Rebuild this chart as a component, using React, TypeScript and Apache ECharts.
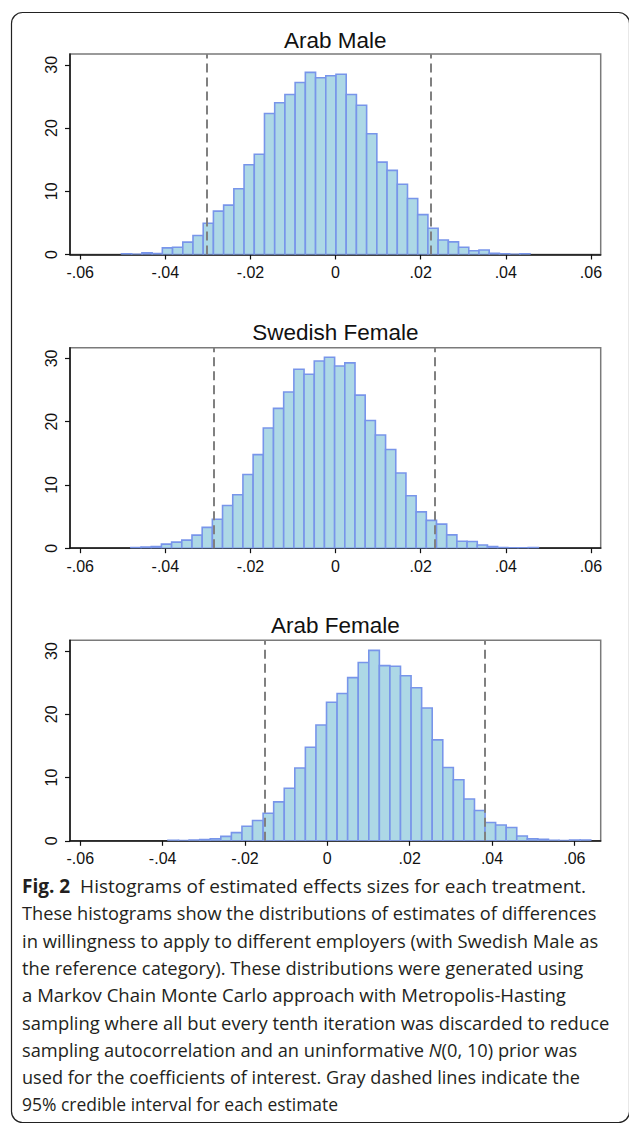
import React, { useEffect, useRef } from "react";
import * as echarts from "echarts";

// ---- data ----
const panelTitles = ["Arab Male", "Swedish Female", "Arab Female"];
const xTickValues = [-0.06, -0.04, -0.02, 0, 0.02, 0.04, 0.06];
const yTickValues = [0, 10, 20, 30];

// Arab Male: 40 bins
const arabMaleBinStart = -0.0503;
const arabMaleBinWidth = 0.0024;
const arabMaleDensity = [
  0.1, 0.05, 0.25, 0.15, 1.05, 1.15, 1.95, 3.0, 4.95, 6.85,
  7.8, 10.4, 14.2, 15.85, 22.3, 24.0, 25.3, 27.2, 28.8, 27.95,
  28.25, 28.5, 25.3, 23.6, 19.1, 14.6, 13.3, 11.1, 8.85, 6.3,
  4.15, 2.3, 2.0, 1.15, 0.6, 0.7, 0.2, 0.1, 0.05, 0.1,
];
const arabMaleInterval = [-0.0302, 0.0224];

// Swedish Female: 40 bins
const swedishFemaleBinStart = -0.0481;
const swedishFemaleBinWidth = 0.002394;
const swedishFemaleDensity = [
  0.1, 0.2, 0.25, 0.64, 0.96, 1.28, 2.07, 3.3, 4.57, 6.75,
  8.46, 11.65, 14.8, 19.0, 22.1, 24.7, 28.3, 27.5, 29.6, 30.2,
  28.8, 29.3, 24.2, 20.2, 17.9, 15.6, 11.9, 8.3, 5.75, 4.4,
  3.8, 2.1, 1.1, 1.05, 0.5, 0.25, 0.1, 0.05, 0.05, 0.1,
];
const swedishFemaleInterval = [-0.0286, 0.0234];

// Arab Female: 40 bins
const arabFemaleBinStart = -0.0387;
const arabFemaleBinWidth = 0.002567;
const arabFemaleDensity = [
  0.08, 0.03, 0.1, 0.2, 0.3, 0.7, 1.3, 2.3, 3.2, 4.35,
  6.15, 8.3, 11.5, 14.8, 18.3, 21.9, 23.3, 25.8, 28.2, 30.1,
  27.7, 27.6, 26.1, 24.2, 21.0, 15.95, 11.6, 9.65, 6.6, 4.8,
  2.9, 2.5, 2.1, 0.75, 0.3, 0.25, 0.08, 0.05, 0.1, 0.1,
];
const arabFemaleInterval = [-0.01525, 0.0383];

// caption: each line is a list of [text, style] runs
const captionLines: [string, string][][] = [
  [["Fig. 2", "bold"], ["\u00A0\u00A0Histograms of estimated effects sizes for each treatment.", ""]],
  [["These histograms show the distributions of estimates of differences", ""]],
  [["in willingness to apply to different employers (with Swedish Male as", ""]],
  [["the reference category). These distributions were generated using", ""]],
  [["a Markov Chain Monte Carlo approach with Metropolis-Hasting", ""]],
  [["sampling where all but every tenth iteration was discarded to reduce", ""]],
  [["sampling autocorrelation and an uninformative ", ""], ["N", "italic"], ["(0, 10) prior was", ""]],
  [["used for the coefficients of interest. Gray dashed lines indicate the", ""]],
  [["95% credible interval for each estimate", ""]],
];

// ---- layout ----
const gridTops = [54, 347.7, 640.3];
const gridHeight = 200.5;
const gridLeft = 70;
const gridWidth = 530.7;
const titleCentersY = [40, 332, 625];
const xMins = [-0.0624, -0.0624, -0.0625];
const xMaxs = [0.0623, 0.0623, 0.0664];
const yMax = 31.7;

const captionLeft = 22;
const captionBase0 = 893;
const captionStep = 27.3;
const captionWidths = [564, 574, 576, 561, 544, 587, 555, 558, 316];

function binsOf(start: number, width: number, dens: number[]) {
  return dens.map((d, i) => [start + i * width, start + (i + 1) * width, d]);
}

function fmtX(v: number) {
  if (Math.abs(v) < 1e-9) return "0";
  const s = Math.abs(v).toFixed(2).replace(/^0/, "");
  return (v < 0 ? "-" : "") + s;
}

export default function App() {
  const ref = useRef<HTMLDivElement>(null);
  const textRefs = useRef<(SVGTextElement | null)[]>([]);

  useEffect(() => {
    // fit each caption line to its width with a horizontal scale
    textRefs.current.forEach((el, i) => {
      if (!el) return;
      const w = el.getComputedTextLength();
      const sx = w > 0 ? captionWidths[i] / w : 1;
      const y = captionBase0 + i * captionStep;
      el.setAttribute("transform", `translate(${captionLeft} ${y}) scale(${sx} 1)`);
    });
  }, []);

  useEffect(() => {
    if (!ref.current) return;
    const chart = echarts.init(ref.current, undefined, { renderer: "svg" });
    const panels = [
      { bins: binsOf(arabMaleBinStart, arabMaleBinWidth, arabMaleDensity), ci: arabMaleInterval },
      { bins: binsOf(swedishFemaleBinStart, swedishFemaleBinWidth, swedishFemaleDensity), ci: swedishFemaleInterval },
      { bins: binsOf(arabFemaleBinStart, arabFemaleBinWidth, arabFemaleDensity), ci: arabFemaleInterval },
    ];
    const labelFont = { fontFamily: "Liberation Sans", fontSize: 16, color: "#111" };

    const option: any = {
      animation: false,
      backgroundColor: "transparent",
      grid: panels.map((_, i) => ({
        left: gridLeft,
        top: gridTops[i],
        width: gridWidth,
        height: gridHeight,
        show: true,
        borderColor: "#7a7a7a",
        borderWidth: 1.5,
        backgroundColor: "#fff",
      })),
      xAxis: panels.map((_, i) => ({
        type: "value",
        gridIndex: i,
        min: xMins[i],
        max: xMaxs[i],
        splitLine: { show: false },
        axisLine: { show: true, onZero: false, lineStyle: { color: "#111", width: 1.5 } },
        axisTick: { show: true, length: 5, customValues: xTickValues, lineStyle: { color: "#111", width: 1.2 } },
        axisLabel: { ...labelFont, margin: 10, customValues: xTickValues, formatter: (v: number) => fmtX(v) },
      })),
      yAxis: panels.map((_, i) => ({
        type: "value",
        gridIndex: i,
        min: 0,
        max: yMax,
        splitLine: { show: false },
        axisLine: { show: true, onZero: false, lineStyle: { color: "#111", width: 1.5 } },
        axisTick: { show: true, length: 5, customValues: yTickValues, lineStyle: { color: "#111", width: 1.2 } },
        axisLabel: { ...labelFont, margin: 11, rotate: 90, customValues: yTickValues, formatter: (v: number) => String(v) },
      })),
      series: panels.map((p, i) => ({
        type: "custom",
        xAxisIndex: i,
        yAxisIndex: i,
        data: p.bins,
        encode: { x: [0, 1], y: 2 },
        clip: true,
        renderItem: (params: any, api: any) => {
          const a = api.coord([api.value(0), 0]);
          const b = api.coord([api.value(1), api.value(2)]);
          return {
            type: "rect",
            shape: { x: a[0], y: b[1], width: b[0] - a[0], height: a[1] - b[1] },
            style: { fill: "#ADD8E6", stroke: "#7895EA", lineWidth: 1.6 },
          };
        },
        markLine: {
          silent: true,
          symbol: "none",
          precision: 6,
          label: { show: false },
          lineStyle: { color: "#808080", type: [9, 5], width: 2 },
          data: p.ci.map((v) => ({ xAxis: v })),
        },
      })),
      graphic: panelTitles.map((t, i) => ({
        type: "text",
        x: gridLeft + gridWidth / 2,
        y: titleCentersY[i],
        style: {
          text: t,
          fontFamily: "Liberation Sans",
          fontSize: 22.5,
          fill: "#111",
          align: "center",
          verticalAlign: "middle",
        },
      })),
    };
    chart.setOption(option);
    return () => chart.dispose();
  }, []);

  return (
    <div style={{ position: "absolute", left: 0, top: 0, width: 629, height: 1124, background: "#fff", overflow: "hidden" }}>
      <svg width={629} height={1124} style={{ position: "absolute", left: 0, top: 0 }}>
        <rect x={11.5} y={12.5} width={618} height={1110} rx={11} ry={11} fill="none" stroke="#222" strokeWidth={1.2} />
        {captionLines.map((runs, i) => (
          <text
            key={i}
            ref={(el) => {
              textRefs.current[i] = el;
            }}
            x={0}
            y={0}
            transform={`translate(${captionLeft} ${captionBase0 + i * captionStep}) scale(0.86 1)`}
            fontFamily="Open Sans"
            fontSize={19}
            fill="#231f20"
          >
            {runs.map(([t, s], j) => (
              <tspan
                key={j}
                fontWeight={s === "bold" ? "bold" : undefined}
                fontStyle={s === "italic" ? "italic" : undefined}
              >
                {t}
              </tspan>
            ))}
          </text>
        ))}
      </svg>
      <div ref={ref} style={{ position: "absolute", left: 0, top: 0, width: 629, height: 870 }} />
    </div>
  );
}
